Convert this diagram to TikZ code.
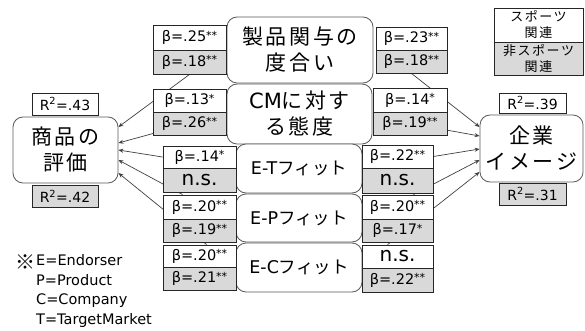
\documentclass[tikz,border=0pt]{standalone}
\usepackage{fontspec}
\setmainfont{DejaVu Sans}
\newfontfamily\jp[LetterSpace=12]{Noto Sans CJK JP}
\newfontfamily\jpn{Noto Sans CJK JP}
\usetikzlibrary{calc,arrows.meta,backgrounds}
\definecolor{boxgray}{HTML}{D9D9D9}
\definecolor{linegray}{HTML}{404040}
\definecolor{edgegray}{HTML}{595959}
\newcommand\supx[1]{\raisebox{2.5pt}{\fontsize{11}{11}\selectfont #1}}
\newcommand\nsx{{\fontsize{20}{20}\selectfont n.s.}}
\tikzset{
  cbox/.style={draw=edgegray, line width=0.8pt, rounded corners=10pt, fill=white, align=center, inner sep=0pt},
  bt/.style={draw=black!85, line width=0.9pt, fill=white, inner sep=0pt, font=\fontsize{14.5}{14.5}\selectfont},
  bb/.style={bt, fill=boxgray},
  lw/.style={minimum width=73pt},
  rw/.style={minimum width=71pt},
  rbox/.style={draw=black!85, line width=0.9pt, inner sep=0pt, font=\fontsize{14}{14}\selectfont},
  conn/.style={draw=linegray, line width=0.7pt, -{Stealth[length=5pt,width=4pt]}},
}
\begin{document}
\begin{tikzpicture}[x=1pt,y=-1pt]
\useasboundingbox (0,0) rectangle (585,331);
% central boxes
\node[cbox, minimum width=146pt, minimum height=66pt, font=\jp\fontsize{21}{26}\selectfont] (prod) at (300,50) {製品関与の\\度合い};
\node[cbox, minimum width=145pt, minimum height=60pt, font=\fontsize{21}{26}\selectfont] (cm) at (299.5,114) {CM{\jp に対す}\\{\jp る態度}};
\node[cbox, minimum width=126pt, minimum height=49pt, font=\fontsize{17.5}{20}\selectfont] (et) at (299,168.5) {E-T{\jpn フィット}};
\node[cbox, minimum width=126pt, minimum height=48pt, font=\fontsize{17.5}{20}\selectfont] (ep) at (299,218) {E-P{\jpn フィット}};
\node[cbox, minimum width=126pt, minimum height=49pt, font=\fontsize{17.5}{20}\selectfont] (ec) at (299,267.5) {E-C{\jpn フィット}};
% outcome boxes
\node[cbox, minimum width=105pt, minimum height=66pt, font=\jp\fontsize{21}{26}\selectfont] (shohin) at (65.5,150) {商品の\\評価};
\node[cbox, minimum width=103pt, minimum height=67pt, font=\jp\fontsize{21}{26}\selectfont] (kigyo) at (531.5,148.5) {企業\\イメージ};
\node[rbox, fill=white, minimum width=66pt, minimum height=22pt] (r43) at (65,104) {R\textsuperscript{2}=.43};
\node[rbox, fill=boxgray, minimum width=66pt, minimum height=22pt] (r42) at (65,196) {R\textsuperscript{2}=.42};
\node[rbox, fill=white, minimum width=67pt, minimum height=20pt] (r39) at (532.5,103) {R\textsuperscript{2}=.39};
\node[rbox, fill=boxgray, minimum width=67pt, minimum height=22pt] (r31) at (532.5,194) {R\textsuperscript{2}=.31};
% legend
\node[rbox, fill=white, minimum width=89pt, minimum height=34pt, align=center, font=\jp\fontsize{13}{16}\selectfont] (lgs) at (538.5,25) {スポーツ\\関連};
\node[rbox, fill=boxgray, minimum width=89pt, minimum height=33pt, align=center, font=\jp\fontsize{13}{16}\selectfont] (lgn) at (538.5,58.5) {非スポーツ\\関連};
% left beta boxes
\node[bt, lw, minimum height=25pt] (lb1t) at (189.5,37.5) {β=.25\supx{**}};
\node[bb, lw, minimum height=24pt] (lb1b) at (189.5,62) {β=.18\supx{**}};
\node[bt, lw, minimum height=23pt] (lb2t) at (189.5,100.5) {β=.13\supx{*}};
\node[bb, lw, minimum height=23pt] (lb2b) at (189.5,123.5) {β=.26\supx{**}};
\node[bt, lw, minimum height=22pt] (lb3t) at (199.5,157) {β=.14\supx{*}};
\node[bb, lw, minimum height=24pt] (lb3b) at (199.5,180) {\nsx};
\node[bt, lw, minimum height=24pt] (lb4t) at (199.5,207) {β=.20\supx{**}};
\node[bb, lw, minimum height=23pt] (lb4b) at (199.5,230.5) {β=.19\supx{**}};
\node[bt, lw, minimum height=22pt] (lb5t) at (199.5,256) {β=.20\supx{**}};
\node[bb, lw, minimum height=23pt] (lb5b) at (199.5,278.5) {β=.21\supx{**}};
% right beta boxes
\node[bt, rw, minimum height=23pt] (rb1t) at (411.5,38.5) {β=.23\supx{**}};
\node[bb, rw, minimum height=23pt] (rb1b) at (411.5,61.5) {β=.18\supx{**}};
\node[bt, minimum width=74pt, minimum height=24pt] (rb2t) at (410,100) {β=.14\supx{*}};
\node[bb, minimum width=74pt, minimum height=23pt] (rb2b) at (410,123.5) {β=.19\supx{**}};
\node[bt, rw, minimum height=23pt] (rb3t) at (397.5,156.5) {β=.22\supx{**}};
\node[bb, rw, minimum height=25pt] (rb3b) at (397.5,180.5) {\nsx};
\node[bt, rw, minimum height=24pt] (rb4t) at (397.5,207) {β=.20\supx{**}};
\node[bb, rw, minimum height=23pt] (rb4b) at (397.5,230.5) {β=.17\supx{*}};
\node[bt, rw, minimum height=23pt] (rb5t) at (397.5,256.5) {\nsx};
\node[bb, rw, minimum height=24pt] (rb5b) at (397.5,280) {β=.22\supx{**}};
% note
\node[font=\jpn\fontsize{20}{20}\selectfont] (kome) at (25,262) {※};
\node[anchor=west, align=left, inner sep=0pt, font=\fontsize{14.5}{19.5}\selectfont] (note) at (36,291) {E=Endorser\\P=Product\\C=Company\\T=TargetMarket};
% arrow end points
\coordinate (s1) at ($(shohin.east)+(0,-23)$);
\coordinate (s2) at ($(shohin.east)+(0,-7)$);
\coordinate (s3) at ($(shohin.east)+(0,0)$);
\coordinate (s4) at ($(shohin.east)+(0,10)$);
\coordinate (s5) at ($(shohin.east)+(0,23)$);
\coordinate (k1) at ($(kigyo.west)+(0,-21.5)$);
\coordinate (k2) at ($(kigyo.west)+(0,-12.5)$);
\coordinate (k3) at ($(kigyo.west)+(0,0.5)$);
\coordinate (k4) at ($(kigyo.west)+(0,11.5)$);
\coordinate (k5) at ($(kigyo.west)+(0,23.5)$);
\begin{pgfonlayer}{background}
\draw[conn] (lb1b.south) -- (s1);
\draw[conn] (lb2b.center) -- (s2);
\draw[conn] (lb3t.west) -- (s3);
\draw[conn] ($(lb4t.north west)+(20,0)$) -- (s4);
\draw[conn] ($(lb5t.north west)+(44,0)$) -- (s5);
\draw[conn] (rb1b.south) -- (k1);
\draw[conn] (rb2b.center) -- (k2);
\draw[conn] (rb3t.east) -- (k3);
\draw[conn] ($(rb4t.north east)+(-20,0)$) -- (k4);
\draw[conn] ($(rb5t.north west)+(26,0)$) -- (k5);
\end{pgfonlayer}
\end{tikzpicture}
\end{document}
